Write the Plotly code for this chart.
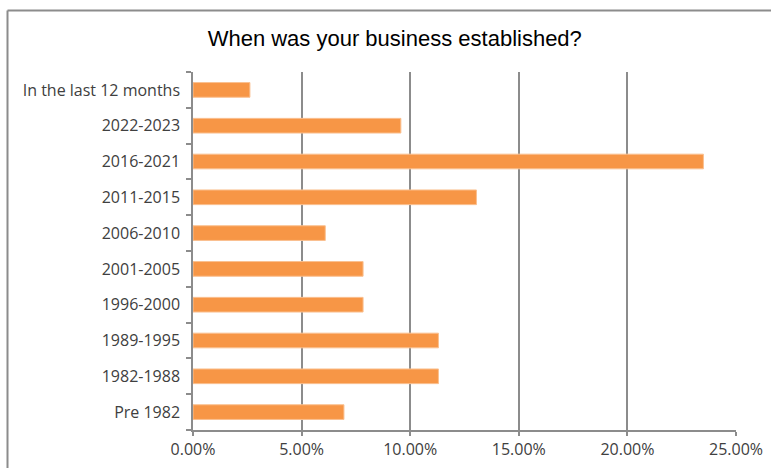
import plotly.graph_objects as go

categories = ["Pre 1982", "1982-1988", "1989-1995", "1996-2000", "2001-2005",
              "2006-2010", "2011-2015", "2016-2021", "2022-2023", "In the last 12 months"]
values = [0.0695, 0.113, 0.113, 0.0783, 0.0783, 0.0609, 0.1305, 0.235, 0.0957, 0.0262]
x_ticks = [0, 0.05, 0.10, 0.15, 0.20, 0.25]
x_tick_labels = ["0.00%", "5.00%", "10.00%", "15.00%", "20.00%", "25.00%"]
title_text = "When was your business established?"

fig = go.Figure(go.Bar(
    y=categories, x=values, orientation="h",
    marker=dict(color="#F79646", line=dict(color="#FAC090", width=1)),
    width=0.41,
))

grey = "#8C8C8C"
fig.update_layout(
    width=771, height=468,
    margin=dict(l=193, r=35, t=72, b=38, autoexpand=False),
    paper_bgcolor="white", plot_bgcolor="white",
    showlegend=False,
    font=dict(family="Open Sans, Lato, sans-serif", size=16, color="#404040"),
    title=dict(text=title_text, x=0.512, xref="container", xanchor="center",
               y=1 - 38 / 468, yref="container", yanchor="middle",
               font=dict(family="Liberation Sans, Arial", size=22, color="#000000")),
    xaxis=dict(range=[0, 0.25], tickvals=x_ticks, ticktext=x_tick_labels,
               showgrid=True, gridcolor=grey, gridwidth=1.5,
               showline=True, linecolor=grey, linewidth=1.5,
               ticks="outside", ticklen=4, tickcolor=grey, tickwidth=1.5,
               zeroline=False, fixedrange=True, automargin=False),
    yaxis=dict(categoryorder="array", categoryarray=categories,
               range=[-0.5, len(categories) - 0.5],
               showline=True, linecolor=grey, linewidth=1.5,
               ticks="outside", tickson="boundaries", ticklen=5, tickcolor=grey, tickwidth=1.5,
               ticklabelstandoff=8, showgrid=False, fixedrange=True, automargin=False),
    bargap=0.59,
)

# outer chart frame (top and left visible)
fig.add_shape(type="line", xref="paper", yref="paper",
              x0=(7.5 - 193) / 543, x1=(775 - 193) / 543,
              y0=(430 - 10.5) / 358, y1=(430 - 10.5) / 358,
              line=dict(color=grey, width=2))
fig.add_shape(type="line", xref="paper", yref="paper",
              x0=(7.5 - 193) / 543, x1=(7.5 - 193) / 543,
              y0=(430 - 10.5) / 358, y1=(430 - 475) / 358,
              line=dict(color=grey, width=2))

fig.write_html("out.html", config={"displayModeBar": False},
               post_script="document.body.style.margin='0';")
